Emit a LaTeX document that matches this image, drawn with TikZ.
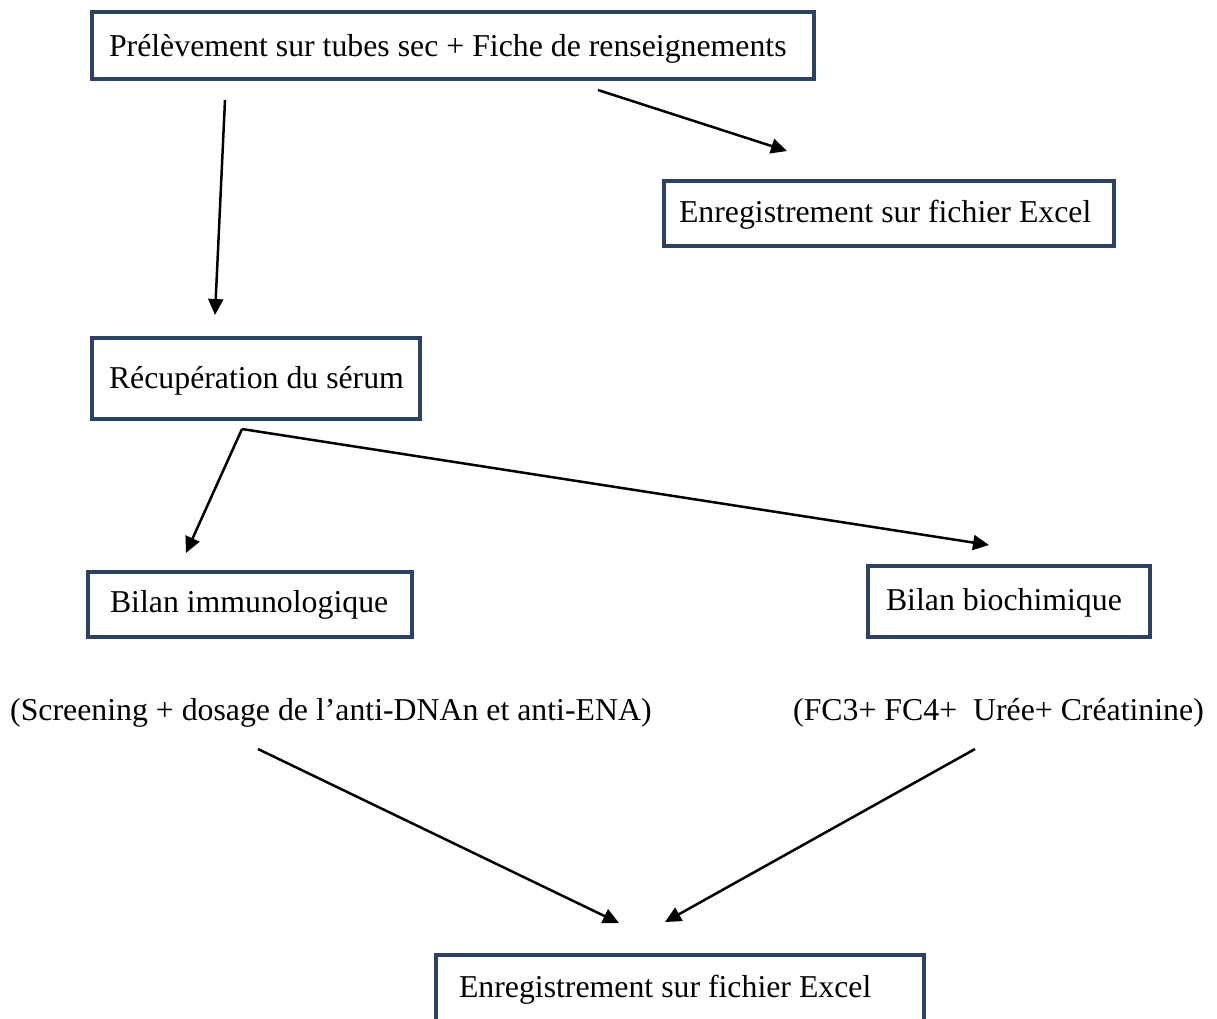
\documentclass[tikz,border=0pt]{standalone}
\usepackage{fontspec}
\setmainfont{Liberation Serif}
\usetikzlibrary{arrows.meta}
\definecolor{navy}{RGB}{42,66,102}
\newcommand{\lowr}[2]{\raisebox{-#1}[\height][\depth]{#2}}
\begin{document}
\begin{tikzpicture}[x=1pt,y=-1pt,
  box/.style={draw=navy, line width=4pt, anchor=north west, inner ysep=0pt, font=\fontsize{31.8}{38}\selectfont},
  freetext/.style={anchor=west, inner sep=0pt, font=\fontsize{31.8}{38}\selectfont},
  arr/.style={line width=2.5pt, -{Triangle[length=16pt,width=15pt]}}]
\useasboundingbox[fill=white] (0,0) rectangle (1217,1018);
% boxes
\node[box, inner xsep=17pt, minimum height=67pt] (prel) at (90,10)
  {\lowr{3pt}{\makebox[688pt][l]{Prélèvement sur tubes sec + Fiche de renseignements}}};
\node[box, inner xsep=15pt, minimum height=65pt] (excel1) at (662,179)
  {\lowr{1pt}{\makebox[420pt][l]{Enregistrement sur fichier Excel}}};
\node[box, inner xsep=17pt, minimum height=81pt] (recup) at (90,336)
  {\lowr{2pt}{\makebox[294pt][l]{Récupération du sérum}}};
\node[box, inner xsep=22pt, minimum height=65pt] (immuno) at (86,570)
  {\makebox[280pt][l]{Bilan immunologique}};
\node[box, inner xsep=18pt, minimum height=71pt] (biochim) at (866,564)
  {\lowr{1pt}{\makebox[246pt][l]{Bilan biochimique}}};
\node[box, inner xsep=23pt, minimum height=68pt] (excel2) at (434,953)
  {\lowr{1pt}{\makebox[442pt][l]{Enregistrement sur fichier Excel}}};
% free texts
\node[freetext] (immunotxt) at (10,713) {(Screening + dosage de l’anti-DNAn et anti-ENA)};
\node[freetext] (biochimtxt) at (793,713) {(FC3+ FC4+\ \ Urée+ Créatinine)};
% connector end points
\coordinate (a1s) at (225,100);
\coordinate (a1e) at (215,315);
\coordinate (a2s) at (598,90);
\coordinate (a2e) at (787,151);
\coordinate (fork) at (242,429);
\coordinate (a3e) at (186,553);
\coordinate (a4e) at (989,545);
\coordinate (a5s) at (258,749);
\coordinate (a5e) at (619,923);
\coordinate (a6s) at (975,749);
\coordinate (a6e) at (665,922);
% connectors
\draw[arr] (a1s) -- (a1e);
\draw[arr] (a2s) -- (a2e);
\draw[arr] (fork) -- (a3e);
\draw[arr] (fork) -- (a4e);
\draw[arr] (a5s) -- (a5e);
\draw[arr] (a6s) -- (a6e);
\end{tikzpicture}
\end{document}
